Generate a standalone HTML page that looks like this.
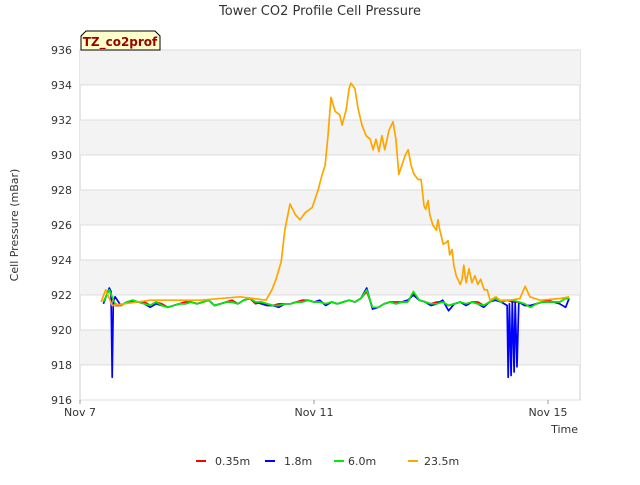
<!DOCTYPE html>
<html><head><meta charset="utf-8"><style>
body{margin:0;background:#fff;font-family:"Liberation Sans","DejaVu Sans",sans-serif;}
svg text{font-family:"DejaVu Sans","Liberation Sans",sans-serif;}
</style></head><body>
<svg id="c" width="640" height="480" xmlns="http://www.w3.org/2000/svg"></svg>
<script>
const yTicks=[916,918,920,922,924,926,928,930,932,934,936];
const xTickDays=[0,4,8];
const xTickLabels=["Nov 7","Nov 11","Nov 15"];
const seriesNames=["0.35m","1.8m","6.0m","23.5m"];
const seriesColors=["#ff0000","#0000ff","#00ee00","#ffa500"];
const baseTimes=[0.4,0.5,0.6,0.7,0.8,0.9,1.0,1.1,1.2,1.3,1.4,1.5,1.6,1.7,1.8,1.9,2.0,2.1,2.2,2.3,2.4,2.5,2.6,2.7,2.8,2.9,3.0,3.1,3.2,3.3,3.4,3.5,3.6,3.7,3.8,3.9,4.0,4.1,4.2,4.3,4.4,4.5,4.6,4.7,4.8,4.9,5.0,5.1,5.2,5.3,5.4,5.5,5.6,5.7,5.8,5.9,6.0,6.1,6.2,6.3,6.4,6.5,6.6,6.7,6.8,6.9,7.0,7.1,7.2,7.3,7.4,7.5,7.6,7.7,7.8,7.9,8.0,8.1,8.2,8.3,8.36];
const redVals=[921.6,922.3,921.4,921.4,921.6,921.7,921.6,921.6,921.4,921.6,921.5,921.3,921.4,921.5,921.6,921.6,921.5,921.6,921.7,921.4,921.5,921.6,921.7,921.5,921.7,921.8,921.5,921.6,921.5,921.4,921.5,921.5,921.5,921.6,921.7,921.7,921.6,921.6,921.5,921.6,921.5,921.6,921.7,921.6,921.8,922.2,921.3,921.3,921.5,921.6,921.6,921.6,921.6,922.1,921.7,921.6,921.5,921.6,921.6,921.4,921.5,921.6,921.5,921.6,921.6,921.4,921.6,921.8,921.6,921.7,921.6,921.6,921.5,921.3,921.5,921.6,921.7,921.6,921.6,921.8,921.8];
const greenVals=[921.6,922.3,921.5,921.4,921.6,921.7,921.6,921.5,921.4,921.6,921.4,921.3,921.4,921.5,921.5,921.6,921.5,921.6,921.7,921.4,921.5,921.6,921.6,921.5,921.7,921.8,921.6,921.6,921.5,921.4,921.4,921.5,921.5,921.6,921.6,921.7,921.6,921.6,921.5,921.6,921.5,921.6,921.7,921.6,921.8,922.3,921.3,921.3,921.5,921.6,921.5,921.6,921.6,922.2,921.7,921.6,921.5,921.5,921.6,921.4,921.5,921.6,921.5,921.6,921.5,921.4,921.6,921.8,921.6,921.7,921.7,921.6,921.5,921.3,921.5,921.6,921.6,921.6,921.6,921.8,921.8];
const blueTimes=[0.4,0.5,0.53,0.55,0.57,0.6,0.7,0.8,0.9,1.0,1.1,1.2,1.3,1.4,1.5,1.6,1.7,1.8,1.9,2.0,2.1,2.2,2.3,2.4,2.5,2.6,2.7,2.8,2.9,3.0,3.1,3.2,3.3,3.4,3.5,3.6,3.7,3.8,3.9,4.0,4.1,4.2,4.3,4.4,4.5,4.6,4.7,4.8,4.9,5.0,5.1,5.2,5.3,5.4,5.5,5.6,5.7,5.8,5.9,6.0,6.1,6.2,6.3,6.4,6.5,6.6,6.7,6.8,6.9,7.0,7.1,7.2,7.3,7.32,7.34,7.37,7.39,7.42,7.44,7.47,7.5,7.6,7.7,7.8,7.9,8.0,8.1,8.2,8.3,8.36];
const blueVals=[921.5,922.4,922.2,917.3,921.6,921.9,921.4,921.6,921.6,921.6,921.5,921.3,921.5,921.4,921.3,921.4,921.5,921.5,921.6,921.5,921.6,921.7,921.4,921.5,921.6,921.6,921.5,921.7,921.8,921.6,921.5,921.4,921.4,921.3,921.5,921.5,921.6,921.6,921.7,921.6,921.7,921.4,921.6,921.5,921.6,921.7,921.6,921.8,922.4,921.2,921.3,921.5,921.6,921.5,921.6,921.7,922.0,921.7,921.6,921.4,921.5,921.7,921.1,921.5,921.6,921.4,921.6,921.5,921.3,921.6,921.7,921.6,921.4,917.3,921.5,917.4,921.6,917.6,921.6,917.9,921.6,921.4,921.4,921.5,921.6,921.6,921.6,921.5,921.3,921.8];
const orangeTimes=[0.36,0.44,0.55,1.20,2.05,2.74,3.18,3.28,3.35,3.44,3.50,3.59,3.68,3.76,3.85,3.97,4.07,4.14,4.19,4.24,4.29,4.36,4.44,4.48,4.55,4.60,4.63,4.70,4.75,4.82,4.89,4.96,5.01,5.06,5.11,5.16,5.21,5.28,5.35,5.40,5.45,5.50,5.56,5.61,5.66,5.71,5.78,5.83,5.88,5.91,5.95,5.98,6.03,6.09,6.12,6.15,6.21,6.26,6.29,6.32,6.36,6.39,6.43,6.50,6.53,6.56,6.60,6.65,6.70,6.75,6.80,6.85,6.91,6.96,7.01,7.11,7.18,7.35,7.52,7.61,7.69,7.86,8.21,8.36];
const orangeVals=[921.6,922.3,921.4,921.7,921.7,921.9,921.7,922.3,922.9,923.9,925.7,927.2,926.6,926.3,926.7,927.0,928.0,928.9,929.4,931.1,933.3,932.5,932.3,931.7,932.6,933.8,934.1,933.8,932.7,931.7,931.1,930.9,930.3,930.9,930.2,931.1,930.3,931.4,931.9,930.9,928.9,929.4,930.0,930.3,929.4,928.9,928.6,928.6,927.1,926.9,927.4,926.6,926.0,925.7,926.3,925.7,924.9,925.0,925.1,924.3,924.6,923.7,923.1,922.6,922.9,923.7,922.7,923.5,922.7,923.1,922.6,922.9,922.3,922.3,921.7,921.9,921.7,921.7,921.8,922.5,921.9,921.7,921.8,921.9];

const NS="http://www.w3.org/2000/svg",svg=document.getElementById('c');
const L=80,R=580,T=50,B=400,DAYPX=58.5;
const xs=d=>L+d*DAYPX, ys=v=>B-(v-916)/20*(B-T);
function el(t,a,p){const e=document.createElementNS(NS,t);for(const k in a)e.setAttribute(k,a[k]);(p||svg).appendChild(e);return e;}
const bg=el('rect',{x:L,y:T,width:R-L,height:B-T,fill:'#fff',stroke:'#ccc'});


for(let i=0;i<yTicks.length-1;i+=2){
  const b=el('rect',{x:L,y:ys(yTicks[i+1]+2>936?936:yTicks[i+1]+2),width:R-L,height:ys(yTicks[i+1])-ys(yTicks[i+1]+2),fill:'#f3f3f3'});
  
  
}
yTicks.forEach(v=>{
  const g=el('line',{x1:L,x2:R,y1:ys(v),y2:ys(v),stroke:'#dcdcdc'});
  
  
  const t=el('text',{x:L-8,y:ys(v)+4,'text-anchor':'end','font-size':11,fill:'#333'});t.textContent=v;
  
  
});
xTickDays.forEach((d,i)=>{
  el('line',{x1:xs(d),x2:xs(d),y1:B,y2:B+4,stroke:'#999'});
  const t=el('text',{x:xs(d),y:B+16,'text-anchor':'middle','font-size':11,fill:'#333'});t.textContent=xTickLabels[i];
  
  
});
function line(ts,vs,c,name){
  const p=el('polyline',{points:ts.map((t,i)=>xs(t).toFixed(1)+','+ys(vs[i]).toFixed(1)).join(' '),fill:'none',stroke:c,'stroke-width':1.7,'stroke-linejoin':'round'});
  
  
}
line(baseTimes,redVals,seriesColors[0],'series-0.35m');
line(blueTimes,blueVals,seriesColors[1],'series-1.8m');
line(baseTimes,greenVals,seriesColors[2],'series-6.0m');
line(orangeTimes,orangeVals,seriesColors[3],'series-23.5m');
const ti=el('text',{x:320,y:15,'text-anchor':'middle','font-size':13,fill:'#333'});ti.textContent='Tower CO2 Profile Cell Pressure';


const yt=el('text',{x:18,y:225,'text-anchor':'middle','font-size':11,fill:'#333',transform:'rotate(-90 18 225)'});yt.textContent='Cell Pressure (mBar)';


const xt=el('text',{x:578,y:433,'text-anchor':'end','font-size':11,fill:'#333'});xt.textContent='Time';


const tag=el('path',{d:'M81,50 L81,36 L86,31 L155,31 L160,36 L160,50 Z',fill:'#ffffcc',stroke:'#000'});


const tt=el('text',{x:120,y:46,'text-anchor':'middle','font-size':12,'font-weight':'bold',fill:'#990000'});tt.textContent='TZ_co2prof';


const lx=[196,265,334,408];
const tx=[215,284,348,424];
seriesNames.forEach((n,i)=>{
  const g=el('g',{});
  
  
  el('line',{x1:lx[i],x2:lx[i]+10,y1:461,y2:461,stroke:seriesColors[i],'stroke-width':2},g);
  const t=el('text',{x:tx[i],y:465,'font-size':11,fill:'#333'},g);t.textContent=n;
});
</script>
</body></html>
